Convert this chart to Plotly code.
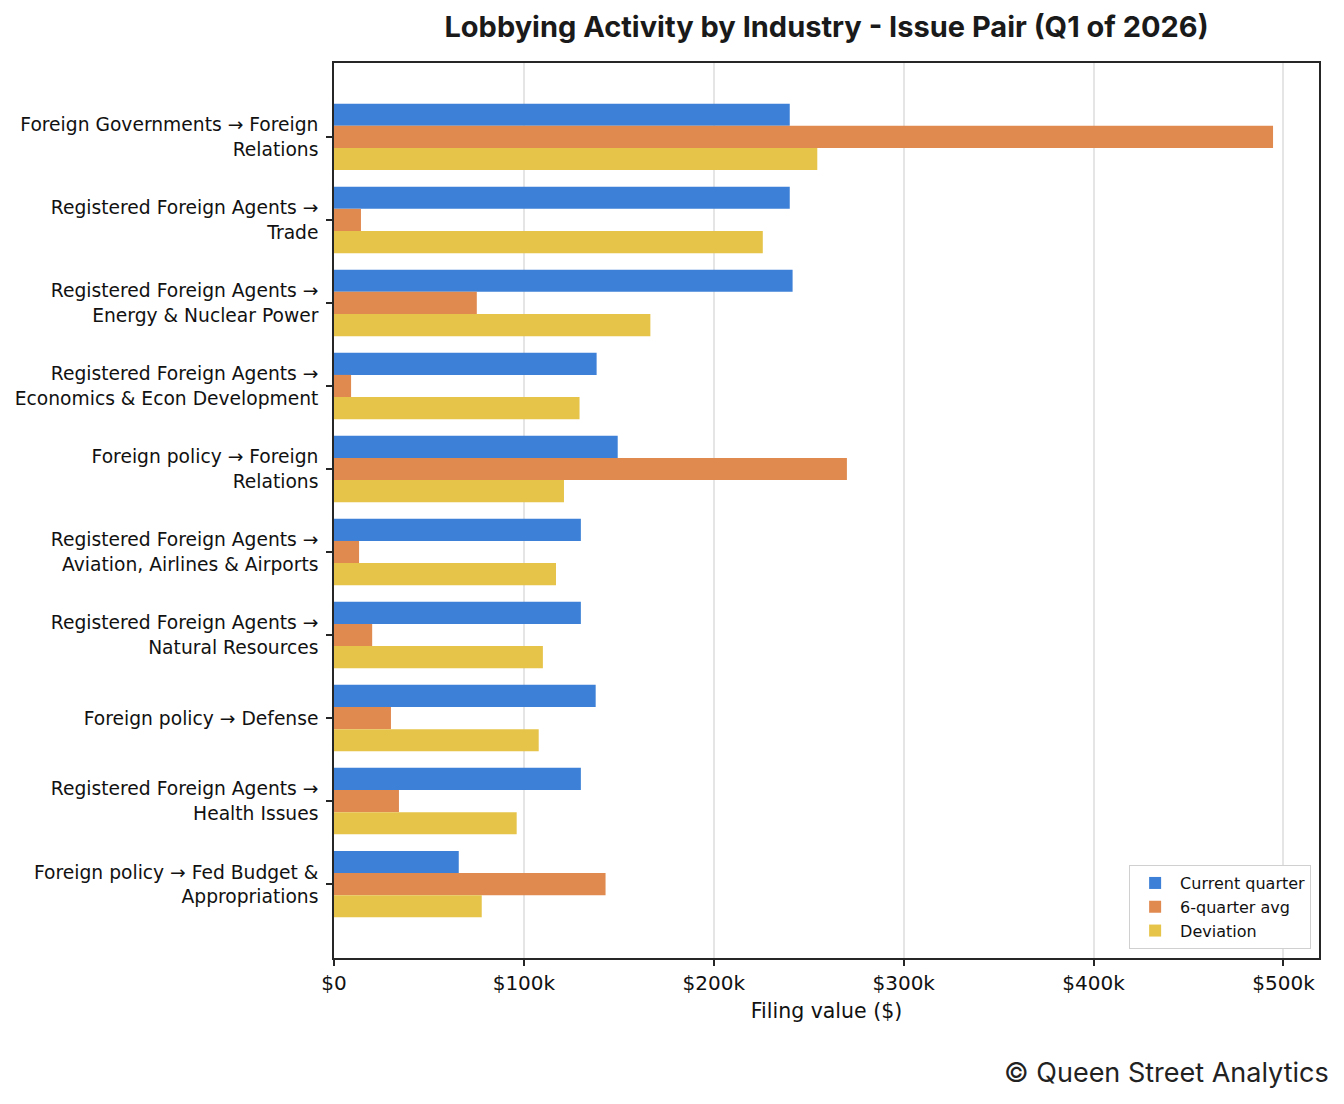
import plotly.graph_objects as go

# industry -> issue pairs, top to bottom
categories = [
    "Foreign Governments → Foreign<br>Relations",
    "Registered Foreign Agents →<br>Trade",
    "Registered Foreign Agents →<br>Energy & Nuclear Power",
    "Registered Foreign Agents →<br>Economics & Econ Development",
    "Foreign policy → Foreign<br>Relations",
    "Registered Foreign Agents →<br>Aviation, Airlines & Airports",
    "Registered Foreign Agents →<br>Natural Resources",
    "Foreign policy → Defense",
    "Registered Foreign Agents →<br>Health Issues",
    "Foreign policy → Fed Budget &<br>Appropriations",
]
current_q = [240000, 240000, 241500, 138300, 149400, 130000, 130000, 137800, 130000, 65700]
avg_6q = [494500, 14200, 75200, 9000, 270100, 13200, 20100, 30000, 34200, 143000]
deviation = [254500, 225800, 166600, 129300, 121100, 116900, 110000, 107800, 96200, 77800]

tick_vals = [0, 100000, 200000, 300000, 400000, 500000]
tick_text = ["$0", "$100k", "$200k", "$300k", "$400k", "$500k"]

fig = go.Figure()
fig.add_trace(go.Bar(y=categories, x=current_q, name="Current quarter",
                     orientation="h", marker_color="#3D80D7"))
fig.add_trace(go.Bar(y=categories, x=avg_6q, name="6-quarter avg",
                     orientation="h", marker_color="#E08A50"))
fig.add_trace(go.Bar(y=categories, x=deviation, name="Deviation",
                     orientation="h", marker_color="#E6C44A"))

fig.update_traces(marker_line_width=0)

# page has an 8px body margin, so the figure is sized to fit the window
fig.update_layout(
    width=1336, height=1096,
    margin=dict(l=326, r=25, t=55, b=146),
    paper_bgcolor="white", plot_bgcolor="white",
    barmode="group", bargap=0.2, bargroupgap=0,
    font=dict(family="DejaVu Sans", size=18, color="#111111"),
    title=dict(text="<b>Lobbying Activity by Industry - Issue Pair (Q1 of 2026)</b>",
               x=0.5, xref="paper", xanchor="center",
               y=1 - 19 / 1096, yref="container", yanchor="middle",
               font=dict(family="Inter", size=29, color="#1a1a1a")),
    legend=dict(x=0.992, y=0.01, xanchor="right", yanchor="bottom",
                bgcolor="white", bordercolor="#d0d0d0", borderwidth=1,
                font=dict(family="DejaVu Sans", size=16), tracegroupgap=0,
                traceorder="normal", itemwidth=40),
    showlegend=True,
)

fig.update_xaxes(
    range=[0, 518700], tickvals=tick_vals, ticktext=tick_text,
    automargin=False,
    showgrid=True, gridcolor="rgba(190,190,190,0.4)", gridwidth=1.5,
    layer="above traces", zeroline=False,
    showline=True, linecolor="#262626", linewidth=1.6, mirror=True,
    ticks="outside", ticklen=6, tickwidth=1.5, tickcolor="#262626",
    title=dict(text="Filing value ($)", standoff=10, font=dict(size=20.5)),
    tickfont=dict(size=20),
)
fig.update_yaxes(
    range=[9.89, -0.89], automargin=False,
    showgrid=False, zeroline=False,
    showline=True, linecolor="#262626", linewidth=1.6, mirror=True,
    ticks="outside", ticklen=6, tickwidth=1.5, tickcolor="#262626",
    ticklabelstandoff=4, tickfont=dict(size=18.7),
)

fig.add_annotation(
    text="© Queen Street Analytics", showarrow=False,
    xref="paper", yref="paper", x=1.012, y=-0.128,
    xanchor="right", yanchor="middle",
    font=dict(family="Inter", size=27, color="#222222"),
)

fig.write_html("out.html")
